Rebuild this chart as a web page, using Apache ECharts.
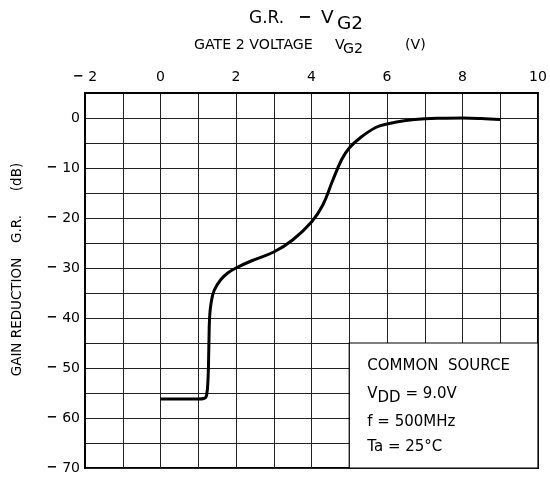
<!DOCTYPE html>
<html><head><meta charset="utf-8">
<script src="https://cdn.jsdelivr.net/npm/echarts@6/dist/echarts.min.js"></script>
<style>html,body{margin:0;padding:0;background:#fff}#c{width:550px;height:477px}</style>
</head><body><div id="c"></div>
<script>
var vg2 = [0, 0.5, 1.0, 1.15, 1.22, 1.26, 1.28, 1.30, 1.34, 1.42, 1.6, 1.8, 2.0, 2.4, 3.0, 3.5, 4.0, 4.3, 4.55, 4.8, 5.0, 5.3, 5.7, 6.0, 6.5, 7.0, 7.5, 8.0, 8.5, 9.0];
var gr  = [-56.2, -56.2, -56.2, -56.1, -55.5, -52, -46, -40, -37, -34.5, -32.3, -30.9, -30, -28.6, -26.8, -24.4, -20.8, -17.4, -12.7, -8.3, -6.0, -3.9, -1.9, -1.2, -0.5, -0.15, -0.05, 0, -0.1, -0.3];
var boxX = [5, 10];
var boxY = [-45, -70];
var noteLines = ['COMMON  SOURCE', 'V{s|DD} = 9.0V', 'f = 500MHz', 'Ta = 25°C'];
var FONT = 'DejaVu Sans';
function neg(v){ return v < 0 ? '{d|\u2212} ' + Math.abs(v) : String(v); }
function f(sz, w){ return (w ? w + ' ' : '') + sz + 'px "' + FONT + '"'; }
var dashRich = {d: {fontWeight: 'bold', fontSize: 13, fontFamily: FONT, color: '#000'}};
var chart = echarts.init(document.getElementById('c'));
chart.setOption({
  animation: false,
  backgroundColor: '#fff',
  textStyle: {fontFamily: FONT, color: '#000'},
  grid: {left: 85, right: 12, top: 93, bottom: 9, show: true, borderColor: '#000', borderWidth: 2, backgroundColor: 'transparent'},
  xAxis: {
    type: 'value', position: 'top', min: -2, max: 10, interval: 1,
    axisLine: {show: true, onZero: false, lineStyle: {color: '#000', width: 2}},
    axisTick: {show: false},
    axisLabel: {margin: 9, fontSize: 14, color: '#000', fontFamily: FONT, rich: dashRich,
      formatter: function(v){ return (Math.round(v) % 2 === 0) ? neg(v) : ''; }},
    splitLine: {show: true, lineStyle: {color: '#222', width: 1}}
  },
  yAxis: {
    type: 'value', min: -70, max: 5, interval: 5,
    axisLine: {show: true, onZero: false, lineStyle: {color: '#000', width: 2}},
    axisTick: {show: false},
    axisLabel: {margin: 5, fontSize: 14, color: '#000', fontFamily: FONT, rich: dashRich,
      formatter: function(v){ return (Math.round(v) % 10 === 0) ? neg(v) : ''; }},
    splitLine: {show: true, lineStyle: {color: '#222', width: 1}}
  },
  series: [{
    type: 'line', data: vg2.map(function(x, i){ return [x, gr[i]]; }),
    showSymbol: false, smooth: 0.4,
    lineStyle: {color: '#000', width: 3},
    markArea: {silent: true,
      itemStyle: {color: '#fff', borderColor: '#000', borderWidth: 1.2, opacity: 1},
      label: {show: false},
      data: [[{coord: [boxX[0], boxY[0]]}, {coord: [boxX[1], boxY[1]]}]]}
  }]
});
var tl = chart.convertToPixel({gridIndex: 0}, [boxX[0], boxY[0]]);
var g = [
  {type: 'text', left: 249, top: 10, style: {text: 'G.R.', font: f(17), fill: '#000'}},
  {type: 'text', left: 298, top: 10, style: {text: '\u2212', font: f(16, 'bold'), fill: '#000'}},
  {type: 'text', left: 321, top: 9, style: {text: 'V', font: f(18.5), fill: '#000'}},
  {type: 'text', left: 337, top: 15, style: {text: 'G2', font: f(18.5), fill: '#000'}},
  {type: 'text', left: 194, top: 38, style: {text: 'GATE 2 VOLTAGE', font: f(14.2), fill: '#000'}},
  {type: 'text', left: 335, top: 38, style: {text: 'V', font: f(14.2), fill: '#000'}},
  {type: 'text', left: 343, top: 42, style: {text: 'G2', font: f(14.2), fill: '#000'}},
  {type: 'text', left: 405, top: 38, style: {text: '(V)', font: f(14.2), fill: '#000'}},
  {type: 'text', x: 17, y: 317, rotation: Math.PI / 2,
    style: {text: 'GAIN REDUCTION', font: f(13.5), fill: '#000', align: 'center', verticalAlign: 'middle'}},
  {type: 'text', x: 17, y: 229, rotation: Math.PI / 2,
    style: {text: 'G.R.', font: f(13.5), fill: '#000', align: 'center', verticalAlign: 'middle'}},
  {type: 'text', x: 17, y: 177, rotation: Math.PI / 2,
    style: {text: '(dB)', font: f(13.5), fill: '#000', align: 'center', verticalAlign: 'middle'}}
];
var tops = [16, 44, 72, 97];
noteLines.forEach(function(t, i){
  g.push({type: 'text', left: tl[0] + 18, top: tl[1] + tops[i], z: 100,
    style: {text: t, font: f(15), fill: '#000',
      rich: {s: {fontSize: 15, fontFamily: FONT, padding: [7, 0, 0, 0]}}}});
});
chart.setOption({graphic: g});
</script></body></html>
